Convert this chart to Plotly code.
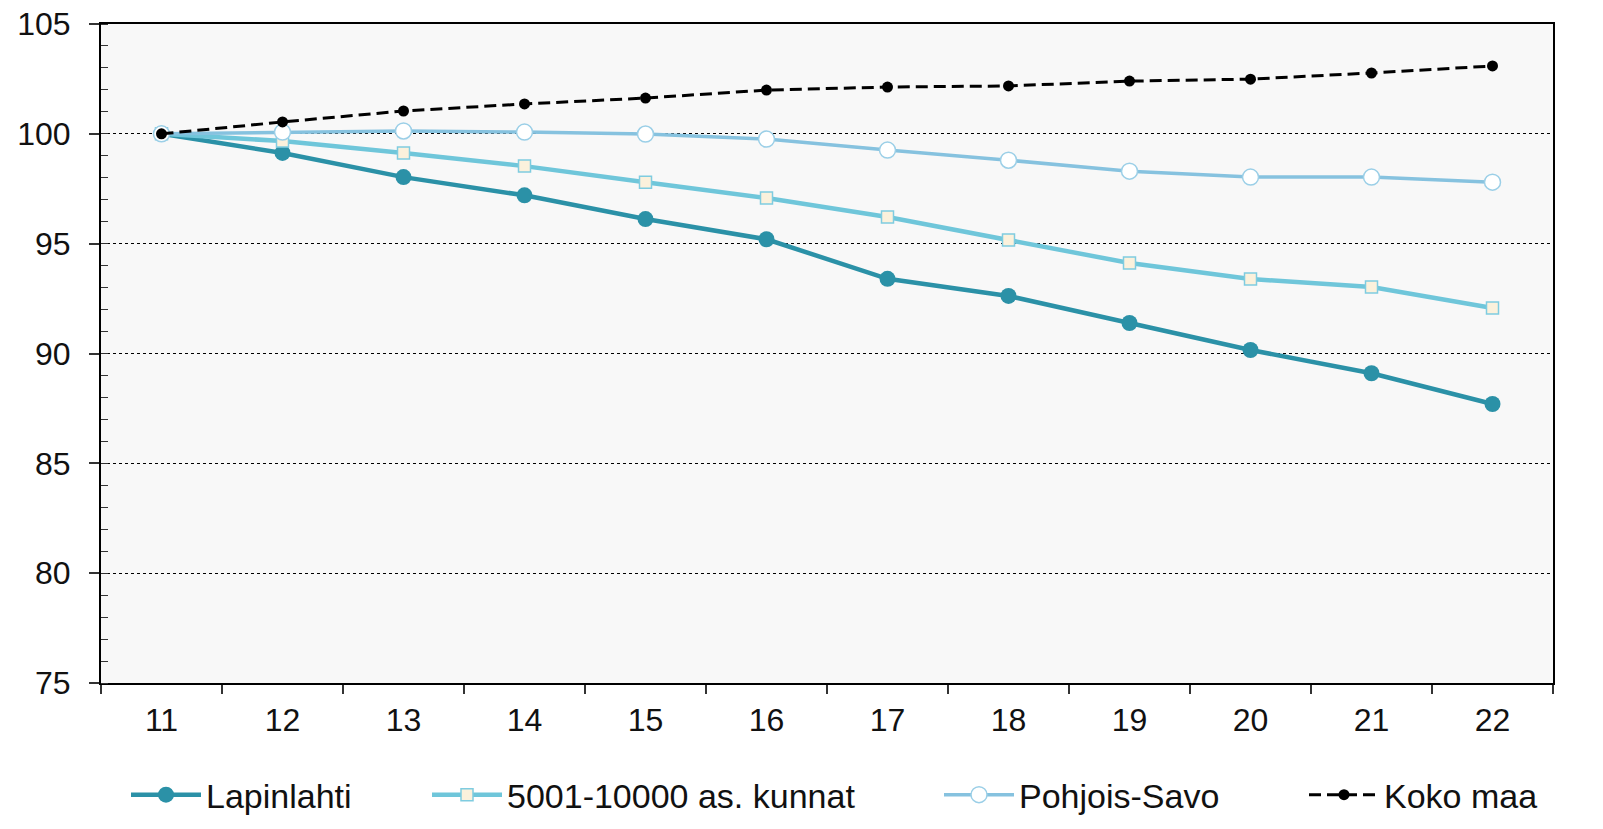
import plotly.graph_objects as go

years = ["11", "12", "13", "14", "15", "16", "17", "18", "19", "20", "21", "22"]
lapinlahti = [100.0, 99.13, 98.03, 97.2, 96.12, 95.2, 93.4, 92.62, 91.39, 90.16, 89.1, 87.7]
kunnat = [100.0, 99.67, 99.13, 98.53, 97.8, 97.08, 96.21, 95.17, 94.12, 93.39, 93.03, 92.07]
pohjois_savo = [100.0, 100.08, 100.13, 100.08, 99.99, 99.76, 99.26, 98.8, 98.3, 98.03, 98.03, 97.8]
koko_maa = [100.0, 100.54, 101.04, 101.36, 101.63, 101.99, 102.13, 102.18, 102.4, 102.49, 102.77, 103.09]

FONT = "Liberation Sans, Arial, sans-serif"

fig = go.Figure()
fig.add_trace(go.Scatter(
    x=years, y=lapinlahti, name="Lapinlahti", mode="lines+markers", legend="legend",
    line=dict(color="#2B91A7", width=4.5),
    marker=dict(symbol="circle", size=16, color="#2B91A7", line=dict(width=0)),
))
fig.add_trace(go.Scatter(
    x=years, y=kunnat, name="5001-10000 as. kunnat", mode="lines+markers", legend="legend2",
    line=dict(color="#6FC6DA", width=4.5),
    marker=dict(symbol="square", size=12, color="#FBF1DC", line=dict(color="#7FCCE0", width=1.5)),
))
fig.add_trace(go.Scatter(
    x=years, y=pohjois_savo, name="Pohjois-Savo", mode="lines+markers", legend="legend3",
    line=dict(color="#86C2DF", width=3.5),
    marker=dict(symbol="circle", size=16, color="#FFFFFF", line=dict(color="#9BCFE7", width=1.5)),
))
fig.add_trace(go.Scatter(
    x=years, y=koko_maa, name="Koko maa", mode="lines+markers", legend="legend4",
    line=dict(color="#000000", width=3, dash="12px,6px"),
    marker=dict(symbol="circle", size=11, color="#000000"),
))

def leg(xpx):
    return dict(
        orientation="h", x=(xpx - 101) / 1452, xanchor="left", y=-0.17, yanchor="middle",
        font=dict(family=FONT, size=34, color="#111111"),
        itemwidth=70, bgcolor="rgba(0,0,0,0)",
    )

fig.update_layout(
    width=1603, height=829,
    margin=dict(l=101, r=50, t=24, b=146, autoexpand=False),
    paper_bgcolor="#FFFFFF",
    plot_bgcolor="#F8F8F8",
    font=dict(family=FONT, size=32, color="#111111"),
    showlegend=True,
    legend=leg(126),
    legend2=leg(427),
    legend3=leg(939),
    legend4=leg(1304),
    xaxis=dict(
        type="category", range=[-0.5, 11.5], automargin=False,
        showline=True, linecolor="#000000", linewidth=2, mirror=True,
        ticks="outside", tickson="boundaries", ticklen=9, tickwidth=1.5, tickcolor="#333333",
        ticklabelstandoff=8,
        showgrid=False, zeroline=False,
        tickfont=dict(family=FONT, size=32, color="#111111"),
    ),
    yaxis=dict(
        range=[75, 105], dtick=5, tick0=75, automargin=False,
        showline=True, linecolor="#000000", linewidth=2, mirror=True,
        ticks="outside", ticklen=10, tickwidth=1.5, tickcolor="#333333",
        ticklabelstandoff=12,
        minor=dict(ticks="inside", dtick=1, ticklen=7, tickwidth=1.2, tickcolor="#333333", showgrid=False),
        showgrid=True, gridcolor="#000000", gridwidth=1, griddash="dot",
        zeroline=False,
        tickfont=dict(family=FONT, size=32, color="#111111"),
    ),
)

fig.write_html(
    "out.html",
    config={"displayModeBar": False},
    post_script="document.body.style.margin='0';document.body.style.overflow='hidden';",
)
